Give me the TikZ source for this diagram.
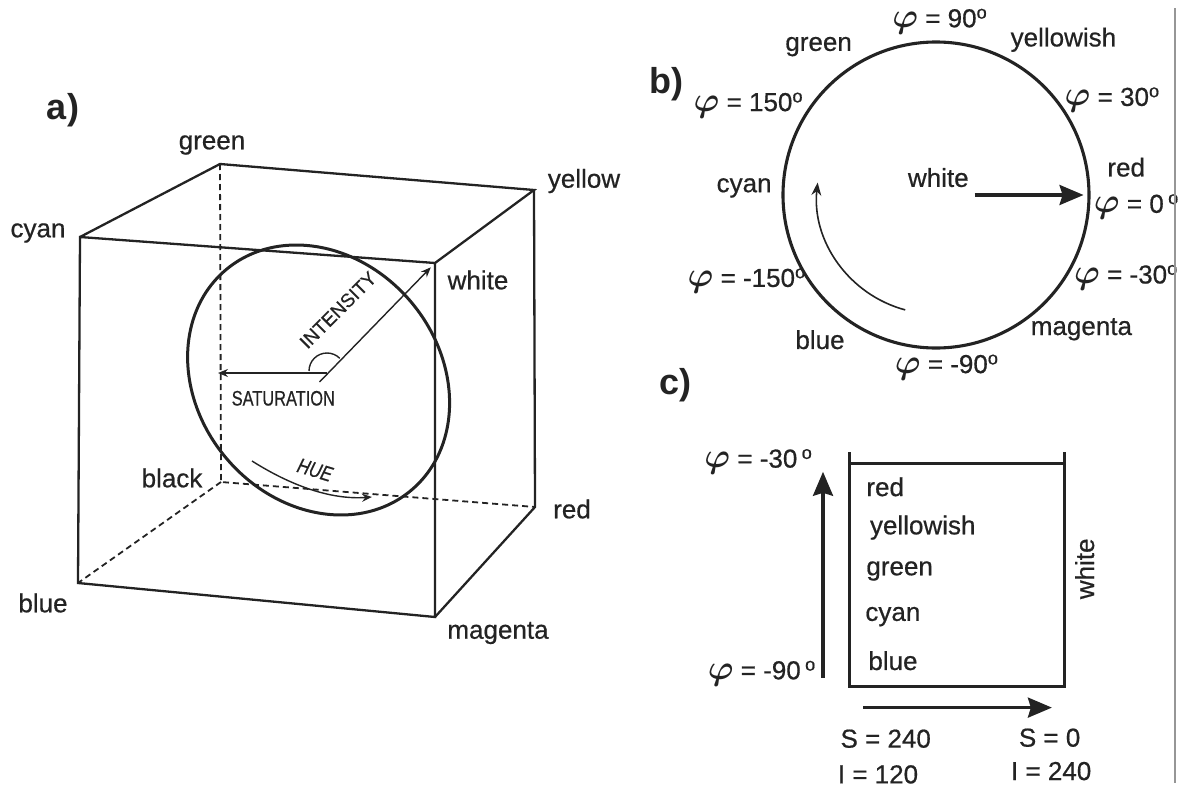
\documentclass[tikz,border=0pt]{standalone}
\usepackage{amsmath,bm}
\usepackage{fontspec}
\setmainfont{Liberation Sans}
\newfontfamily\lblfam{Liberation Sans}[FakeBold=0.6]
\usepackage{tikz}
\usetikzlibrary{arrows.meta,positioning,calc}
\definecolor{ink}{RGB}{35,35,35}
\definecolor{rulegray}{RGB}{150,150,150}
\newcommand{\phisym}{{\fontsize{16}{16}\selectfont$\bm{\varphi}$}}
\newcommand{\dg}{\textsuperscript{o}}
\tikzset{
  lbl/.style={font=\lblfam\fontsize{13}{15}\selectfont,text=ink,inner sep=0pt},
  tag/.style={font=\fontsize{18}{20}\selectfont\bfseries,text=ink,inner sep=0pt},
  tinycaps/.style={font=\lblfam\fontsize{10.5}{12}\selectfont,text=ink,inner sep=0pt},
  cubeedge/.style={draw=ink,line width=1.15pt,line join=miter},
  cubehidden/.style={draw=ink,line width=0.9pt,dash pattern=on 3pt off 2pt},
  thinarr/.style={-{Stealth[length=5pt,width=4pt]},line width=0.7pt,ink},
  midarr/.style={-{Stealth[length=6.5pt,width=5pt]},line width=0.8pt,ink},
  bigarr/.style={-{Stealth[length=12pt,width=10pt,inset=1.5pt]},line width=1.6pt,ink},
}

\begin{document}
\begin{tikzpicture}[x=0.5pt,y=0.5pt]
  \useasboundingbox (0,0) rectangle (1179,-787);
  % a) the colour cube
  \coordinate (cy) at (80,-237);  \coordinate (wh) at (435,-263);
  \coordinate (bl) at (78,-583);  \coordinate (mg) at (435,-617);
  \coordinate (gr) at (220,-164); \coordinate (ye) at (534,-190);
  \coordinate (bk) at (221,-482); \coordinate (rd) at (535,-507);
  \draw[cubehidden] (gr) -- (bk) -- (rd); \draw[cubehidden] (bk) -- (bl);
  \draw[cubeedge] (cy) -- (wh) -- (mg) -- (bl) -- cycle;
  \draw[cubeedge] (cy) -- (gr) -- (ye) -- (wh);
  \draw[cubeedge] (ye) -- (rd) -- (mg);
  \node[tag] (ta) at (63,-110) {a)};
  \node[lbl] (ngreen) at (212,-145) {green};
  \node[lbl] (nyellow) at (584,-181) {yellow};
  \node[lbl] (ncyan) at (38,-233) {cyan};
  \node[lbl] (nwhite) at (478,-280) {white};
  \node[lbl] (nblack) at (172,-478) {black};
  \node[lbl] (nred) at (572,-509) {red};
  \node[lbl] (nblue) at (43,-603) {blue};
  \node[lbl] (nmagenta) at (498,-633) {magenta};
  % hue disc
  \draw[ink,line width=1.5pt,rotate around={-50:(318.6,-380)}]
    (318.6,-380) ellipse [x radius=144, y radius=121];
  \coordinate (o) at (327,-373);
  \coordinate (sat) at (218,-373);
  \coordinate (io) at (319.5,-382);
  \draw[thinarr] (o) -- (sat);
  \draw[thinarr,shorten >=3pt] (io) -- (wh);
  \draw[ink,line width=0.7pt] (309,-371) arc[start angle=180,end angle=45,radius=18];
  \node[tinycaps,rotate=45,font=\lblfam\fontsize{9.5}{11}\selectfont] (nint) at (338,-310) {INTENSITY};
  \node[tinycaps,xscale=0.78] (nsat) at (283.3,-398.3) {SATURATION};
  \coordinate (h0) at (252,-461); \coordinate (h1) at (372,-497);
  \draw[thinarr] (h0) .. controls (290,-485) and (330,-500) .. (h1);
  \node[tinycaps,rotate=-17,xscale=0.8] (nhue) at (315,-470) {\itshape HUE};

  % b) hue circle
  \node[tag] (tb) at (666,-84.5) {b)};
  \node[draw=ink,circle,line width=1.55pt,minimum size=153pt,inner sep=0pt] (wheel) at (936,-195) {};
  \coordinate (wstart) at ($(wheel.center)+(38.5,0)$);
  \draw[bigarr,shorten >=3.5pt] (wstart) -- (wheel.east);
  \coordinate (cv0) at (905.2,-309.9);
  \draw[midarr] (cv0) arc[start angle=-105,end angle=-186,radius=119];
  \node[lbl] (bwhite) at (938.3,-177.6) {white};
  \node[lbl] (bgreen) at (818.6,-46.6) {green};
  \node[lbl] (byellowish) at (1063.4,-39.7) {yellowish};
  \node[lbl] (bred) at (1126.2,-167.2) {red};
  \node[lbl] (bcyan) at (744.1,-187.9) {cyan};
  \node[lbl] (bmagenta) at (1081.4,-329.3) {magenta};
  \node[lbl] (bblue) at (820,-339.7) {blue};
  \node[lbl] (p90) at (940,-21.4) {\phisym{} = 90\dg};
  \node[lbl] (p150) at (748.6,-105.2) {\phisym{} = 150\dg};
  \node[lbl] (p30) at (1112.4,-100) {\phisym{} = 30\dg};
  \node[lbl] (p0) at (1136.6,-206.9) {\phisym{} = 0\,\dg};
  \node[lbl] (pm30) at (1126.2,-277.6) {\phisym{} = -30\dg};
  \node[lbl] (pm150) at (746.9,-281) {\phisym{} = -150\dg};
  \node[lbl] (pm90) at (946.9,-367.2) {\phisym{} = -90\dg};

  % c) unrolled strip
  \node[tag] (tc) at (675,-385) {c)};
  \coordinate (sl) at (849,-452); \coordinate (sr) at (1064.6,-452);
  \coordinate (sbl) at (849,-686); \coordinate (sbr) at (1064.6,-686);
  \draw[ink,line width=1.5pt] (sl) -- (sbl) -- (sbr) -- (sr);
  \draw[ink,line width=1.5pt] ($(sl)+(0,-11)$) -- ($(sr)+(0,-11)$);
  \node[lbl,anchor=west] (cred) at (866,-486.8) {red};
  \node[lbl,anchor=west] (cyellowish) at (869.6,-527.6) {yellowish};
  \node[lbl,anchor=west] (cgreen) at (866,-571) {green};
  \node[lbl,anchor=west] (ccyan) at (865,-616.6) {cyan};
  \node[lbl,anchor=west] (cblue) at (868,-660.7) {blue};
  \node[lbl,rotate=90] (cwhite) at (1084.7,-568.8) {white};
  \coordinate (va0) at (823,-677.5); \coordinate (va1) at (823,-471.8);
  \draw[bigarr] (va0) -- (va1);
  \node[lbl] (cm30) at (758.6,-461.7) {\phisym{} = -30\,\dg};
  \node[lbl] (cm90) at (762,-673.4) {\phisym{} = -90\,\dg};
  \coordinate (ha0) at (863.3,-707.6); \coordinate (ha1) at (1051.9,-707.6);
  \draw[bigarr] (ha0) -- (ha1);
  \node[lbl] (s240) at (885.7,-738.7) {S = 240};
  \node[lbl] (i120) at (878,-774.4) {I = 120};
  \node[lbl] (s0) at (1049.6,-737.7) {S = 0};
  \node[lbl] (i240) at (1051.2,-771.1) {I = 240};

  \draw[rulegray,line width=0.8pt] (1175,-8) -- (1175,-783);
\end{tikzpicture}
\end{document}
